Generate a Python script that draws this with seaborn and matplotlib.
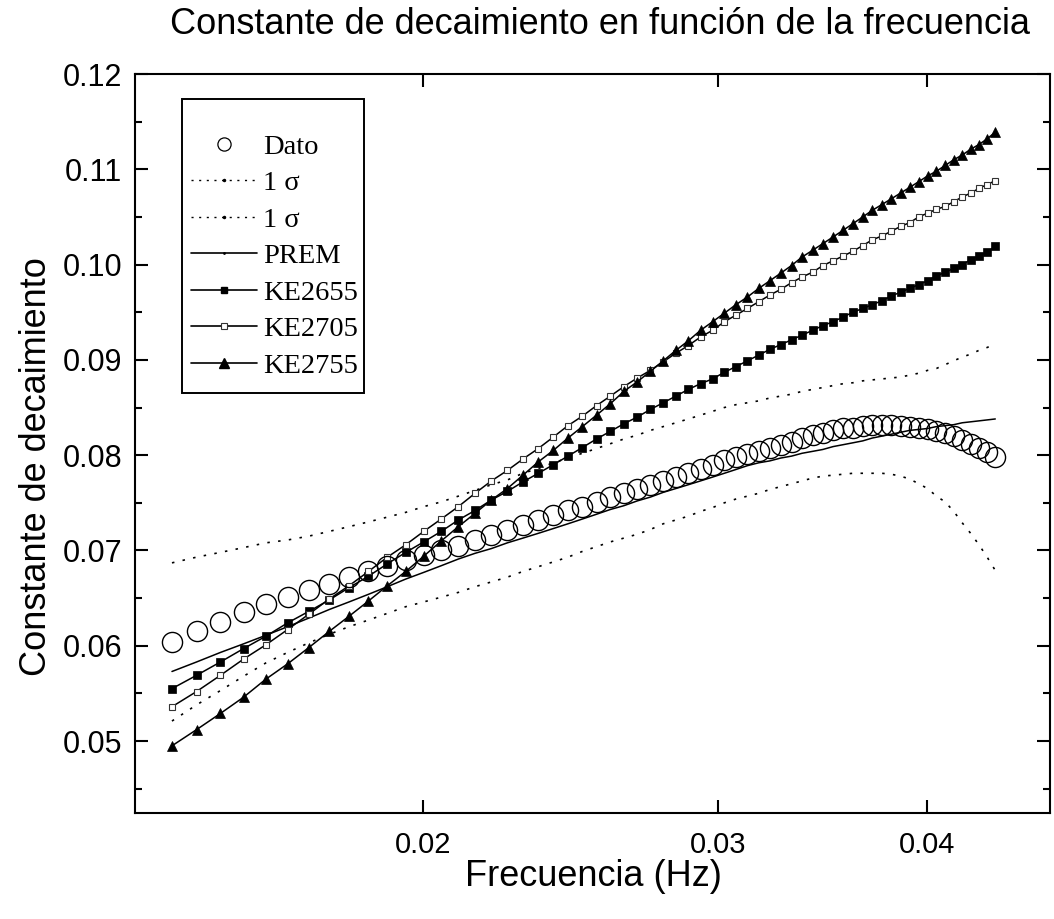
import matplotlib
matplotlib.use("Agg")
import matplotlib.pyplot as plt
import seaborn as sns
import pandas as pd
from matplotlib.ticker import FixedLocator, FixedFormatter, MultipleLocator, FormatStrFormatter, NullLocator
from matplotlib.lines import Line2D
from matplotlib.patches import Rectangle
from matplotlib.font_manager import FontProperties

# ---------------- data ----------------
freq = [0.014160, 0.014648, 0.015137, 0.015625, 0.016113, 0.016602, 0.017090, 0.017578,
        0.018066, 0.018555, 0.019043, 0.019531, 0.020020, 0.020508, 0.020996, 0.021484,
        0.021973, 0.022461, 0.022949, 0.023438, 0.023926, 0.024414, 0.024902, 0.025391,
        0.025879, 0.026367, 0.026855, 0.027344, 0.027832, 0.028320, 0.028809, 0.029297,
        0.029785, 0.030273, 0.030762, 0.031250, 0.031738, 0.032227, 0.032715, 0.033203,
        0.033691, 0.034180, 0.034668, 0.035156, 0.035645, 0.036133, 0.036621, 0.037109,
        0.037598, 0.038086, 0.038574, 0.039063, 0.039551, 0.040039, 0.040527, 0.041016,
        0.041504, 0.041992, 0.042480, 0.042969, 0.043457, 0.043945]

dato = [0.0604, 0.0615, 0.0625, 0.0635, 0.0644, 0.0651, 0.0658, 0.0665, 0.0672, 0.0678, 0.0684, 0.0690,
        0.0695, 0.0700, 0.0705, 0.0711, 0.0716, 0.0721, 0.0727, 0.0732, 0.0737, 0.0742,
        0.0746, 0.0751, 0.0756, 0.0760, 0.0764, 0.0769, 0.0773, 0.0777, 0.0781, 0.0786,
        0.0790, 0.0795, 0.0798, 0.0801, 0.0804, 0.0808, 0.0811, 0.0814, 0.0818, 0.0821,
        0.0823, 0.0826, 0.0828, 0.0829, 0.0831, 0.0832, 0.0832, 0.0832, 0.0831, 0.0830,
        0.0828, 0.0827, 0.0825, 0.0823, 0.0820, 0.0816, 0.0812, 0.0808, 0.0803, 0.0798]

sigma_up = [0.0687, 0.0693, 0.0698, 0.0703, 0.0708, 0.0711, 0.0715, 0.0720, 0.0725, 0.0730, 0.0735, 0.0740,
            0.0746, 0.0751, 0.0757, 0.0763, 0.0769, 0.0774, 0.0781, 0.0786, 0.0792, 0.0797,
            0.0802, 0.0807, 0.0812, 0.0817, 0.0821, 0.0826, 0.0830, 0.0834, 0.0838, 0.0842,
            0.0846, 0.0850, 0.0853, 0.0855, 0.0857, 0.0860, 0.0862, 0.0864, 0.0867, 0.0869,
            0.0871, 0.0873, 0.0875, 0.0876, 0.0878, 0.0879, 0.0880, 0.0881, 0.0882, 0.0884,
            0.0886, 0.0889, 0.0891, 0.0895, 0.0899, 0.0903, 0.0906, 0.0910, 0.0913, 0.0917]

sigma_low = [0.0521, 0.0538, 0.0553, 0.0568, 0.0582, 0.0593, 0.0603, 0.0612, 0.0620, 0.0627, 0.0634, 0.0641,
             0.0646, 0.0651, 0.0656, 0.0662, 0.0667, 0.0672, 0.0678, 0.0683, 0.0688, 0.0693,
             0.0699, 0.0704, 0.0709, 0.0713, 0.0717, 0.0722, 0.0728, 0.0732, 0.0736, 0.0741,
             0.0745, 0.0750, 0.0754, 0.0757, 0.0760, 0.0764, 0.0767, 0.0770, 0.0773, 0.0776,
             0.0778, 0.0779, 0.0780, 0.0781, 0.0781, 0.0781, 0.0781, 0.0780, 0.0778, 0.0775,
             0.0770, 0.0765, 0.0757, 0.0751, 0.0741, 0.0729, 0.0718, 0.0706, 0.0693, 0.0679]

prem = [0.0573, 0.0583, 0.0593, 0.0602, 0.0611, 0.0620, 0.0629, 0.0638, 0.0646, 0.0654, 0.0662, 0.0670,
        0.0677, 0.0684, 0.0691, 0.0697, 0.0702, 0.0708, 0.0713, 0.0718, 0.0723, 0.0728,
        0.0733, 0.0738, 0.0743, 0.0747, 0.0752, 0.0756, 0.0761, 0.0765, 0.0769, 0.0773,
        0.0777, 0.0781, 0.0785, 0.0789, 0.0792, 0.0794, 0.0797, 0.0799, 0.0802, 0.0804,
        0.0806, 0.0809, 0.0811, 0.0813, 0.0815, 0.0818, 0.0820, 0.0822, 0.0824, 0.0826,
        0.0827, 0.0828, 0.0830, 0.0831, 0.0832, 0.0834, 0.0835, 0.0836, 0.0837, 0.0838]

ke2655 = [0.0555, 0.0569, 0.0583, 0.0597, 0.0610, 0.0624, 0.0636, 0.0648, 0.0661, 0.0673, 0.0686, 0.0698,
          0.0709, 0.0720, 0.0732, 0.0742, 0.0753, 0.0762, 0.0772, 0.0781, 0.0790, 0.0799,
          0.0808, 0.0817, 0.0825, 0.0833, 0.0840, 0.0848, 0.0855, 0.0862, 0.0869, 0.0875,
          0.0880, 0.0887, 0.0893, 0.0899, 0.0905, 0.0911, 0.0916, 0.0921, 0.0926, 0.0931,
          0.0936, 0.0940, 0.0945, 0.0950, 0.0954, 0.0958, 0.0962, 0.0967, 0.0971, 0.0975,
          0.0979, 0.0983, 0.0988, 0.0992, 0.0996, 0.1000, 0.1005, 0.1009, 0.1013, 0.1019]

ke2705 = [0.0536, 0.0552, 0.0569, 0.0586, 0.0601, 0.0617, 0.0633, 0.0649, 0.0663, 0.0678, 0.0693, 0.0706,
          0.0720, 0.0733, 0.0746, 0.0760, 0.0773, 0.0784, 0.0796, 0.0807, 0.0819, 0.0831,
          0.0841, 0.0852, 0.0862, 0.0872, 0.0881, 0.0889, 0.0898, 0.0907, 0.0915, 0.0924,
          0.0931, 0.0940, 0.0947, 0.0954, 0.0961, 0.0968, 0.0974, 0.0981, 0.0987, 0.0992,
          0.0999, 0.1004, 0.1009, 0.1014, 0.1020, 0.1026, 0.1030, 0.1035, 0.1040, 0.1044,
          0.1050, 0.1054, 0.1058, 0.1061, 0.1066, 0.1071, 0.1075, 0.1080, 0.1084, 0.1088]

ke2755 = [0.0495, 0.0512, 0.0529, 0.0546, 0.0565, 0.0581, 0.0598, 0.0615, 0.0631, 0.0647, 0.0663, 0.0678,
          0.0694, 0.0710, 0.0725, 0.0739, 0.0753, 0.0765, 0.0779, 0.0793, 0.0805, 0.0818,
          0.0830, 0.0842, 0.0854, 0.0867, 0.0877, 0.0888, 0.0899, 0.0910, 0.0920, 0.0931,
          0.0940, 0.0949, 0.0958, 0.0966, 0.0975, 0.0983, 0.0991, 0.0999, 0.1008, 0.1015,
          0.1022, 0.1029, 0.1036, 0.1043, 0.1050, 0.1057, 0.1063, 0.1069, 0.1075, 0.1081,
          0.1087, 0.1093, 0.1098, 0.1104, 0.1110, 0.1115, 0.1121, 0.1126, 0.1132, 0.1139]

series_labels = ["Dato", "1 σ", "1 σ", "PREM", "KE2655", "KE2705", "KE2755"]
x_ticks = [0.02, 0.03, 0.04]
x_tick_labels = ["0.02", "0.03", "0.04"]

title_text = "Constante de decaimiento en función de la frecuencia"
x_label = "Frecuencia (Hz)"
y_label = "Constante de decaimiento"

# ---------------- figure ----------------
sns.set_style("ticks")
plt.rcParams["font.family"] = ["Liberation Sans", "DejaVu Sans"]
plt.rcParams["text.color"] = "black"
plt.rcParams["axes.labelcolor"] = "black"
plt.rcParams["xtick.color"] = "black"
plt.rcParams["ytick.color"] = "black"
plt.rcParams["axes.edgecolor"] = "black"

df = pd.DataFrame({"freq": freq, "dato": dato, "up": sigma_up, "low": sigma_low, "prem": prem,
                   "ke2655": ke2655, "ke2705": ke2705, "ke2755": ke2755})

W, H = 1054, 919
fig = plt.figure(figsize=(W / 100, H / 100), dpi=100)
ax = fig.add_axes([135 / W, 1 - 813 / H, 915 / W, 739 / H])
ax.set_xscale("log")

dot_style = (0, (1.5, 5))
common = dict(ax=ax, color="black", legend=False, sort=False, estimator=None)

sns.lineplot(data=df, x="freq", y="up", linewidth=1.2, linestyle=dot_style, **common)
sns.lineplot(data=df, x="freq", y="low", linewidth=1.2, linestyle=dot_style, **common)
sns.lineplot(data=df, x="freq", y="prem", linewidth=1.1, **common)
sns.lineplot(data=df, x="freq", y="ke2655", linewidth=1.1, marker="s", markersize=5.2,
             markerfacecolor="black", markeredgecolor="black", markeredgewidth=0.5, **common)
sns.lineplot(data=df, x="freq", y="ke2705", linewidth=1.1, marker="s", markersize=4.8,
             markerfacecolor="white", markeredgecolor="#333333", markeredgewidth=0.8, **common)
sns.lineplot(data=df, x="freq", y="ke2755", linewidth=1.1, marker="^", markersize=7.5,
             markerfacecolor="black", markeredgecolor="black", markeredgewidth=0.5, **common)
sns.lineplot(data=df, x="freq", y="dato", linestyle="None", marker="o", markersize=14.5,
             markerfacecolor="none", markeredgecolor="black", markeredgewidth=1.0, **common)

ax.set_xlim(0.013458, 0.04738)
ax.set_ylim(0.04245, 0.12)

ax.xaxis.set_major_locator(FixedLocator(x_ticks))
ax.xaxis.set_major_formatter(FixedFormatter(x_tick_labels))
ax.xaxis.set_minor_locator(NullLocator())
ax.yaxis.set_major_locator(MultipleLocator(0.01))
ax.yaxis.set_minor_locator(MultipleLocator(0.005))
ax.yaxis.set_major_formatter(FormatStrFormatter("%.2f"))

ax.tick_params(which="both", direction="in", top=True, right=True, width=1.5, color="black",
               labelcolor="black")
ax.tick_params(which="major", length=9.5)
ax.tick_params(which="minor", length=5)
ax.tick_params(axis="y", labelsize=22, pad=9)
ax.tick_params(axis="x", labelsize=21, pad=13)
for sp in ax.spines.values():
    sp.set_linewidth(1.5)
    sp.set_color("black")
ax.set_xlabel("")
ax.set_ylabel("")

fig.text(600 / W, 1 - 25 / H, title_text, ha="center", va="center", fontsize=26, color="black")
fig.text(593 / W, 1 - 877 / H, x_label, ha="center", va="center", fontsize=26, color="black")
fig.text(37 / W, 1 - 467 / H, y_label, ha="center", va="center", fontsize=26, rotation=90,
         color="black")

# legend
handles = [
    Line2D([], [], linestyle="None", marker="o", markersize=9.5, markerfacecolor="none",
           markeredgecolor="black", markeredgewidth=0.9),
    Line2D([], [], color="black", linestyle=(0, (1.5, 4)), linewidth=1.0, marker=".", markersize=3),
    Line2D([], [], color="black", linestyle=(0, (1.5, 4)), linewidth=1.0, marker=".", markersize=3),
    Line2D([], [], color="black", linewidth=1.2, marker=".", markersize=2),
    Line2D([], [], color="black", linewidth=1.2, marker="s", markersize=5, markerfacecolor="black"),
    Line2D([], [], color="black", linewidth=1.2, marker="s", markersize=4.5, markerfacecolor="white",
           markeredgecolor="#333333", markeredgewidth=0.8),
    Line2D([], [], color="black", linewidth=1.2, marker="^", markersize=7, markerfacecolor="black"),
]
leg = ax.legend(handles, series_labels, loc="upper left",
                bbox_to_anchor=(191 / W, 1 - 134 / H), bbox_transform=fig.transFigure,
                frameon=False, borderpad=0, borderaxespad=0, handlelength=2.32,
                handletextpad=0.21, labelspacing=0.37,
                prop=FontProperties(family=["Liberation Serif", "DejaVu Serif"], size=20.5))
for t in leg.get_texts():
    t.set_color("black")
fig.patches.append(Rectangle((182 / W, 1 - 393 / H), 182 / W, 294 / H, transform=fig.transFigure,
                             fill=False, linewidth=1.4, edgecolor="black"))

fig.savefig("out.png", dpi=100, facecolor="white")
